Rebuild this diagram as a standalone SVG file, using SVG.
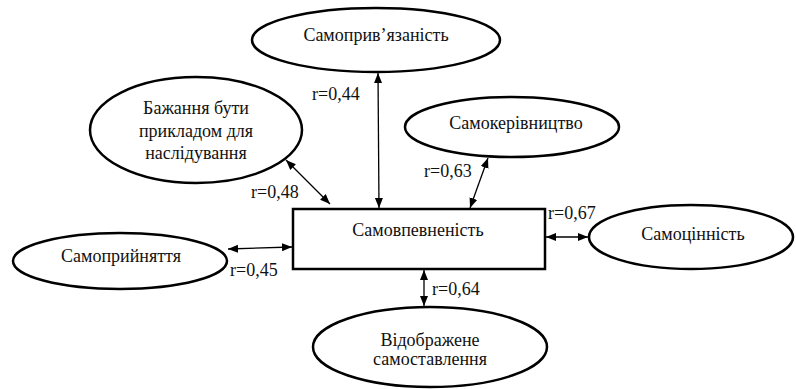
<svg xmlns="http://www.w3.org/2000/svg" width="796" height="389" viewBox="0 0 796 389">
<style>
.n{fill:#fff;stroke:#000;stroke-width:2.5}
.t{font-family:"Liberation Serif","Times New Roman",serif;font-size:18px;fill:#111;text-anchor:middle}
.l{font-family:"Liberation Serif","Times New Roman",serif;font-size:18px;fill:#111}
.c{stroke:#000;stroke-width:1.3;fill:none;marker-start:url(#a);marker-end:url(#a)}
</style>
<defs>
<marker id="a" viewBox="0 0 10 10" refX="10" refY="5" markerWidth="10" markerHeight="10" markerUnits="userSpaceOnUse" orient="auto-start-reverse">
<path d="M0,1 L10,5 L0,9 Z" fill="#000"/>
</marker>
</defs>
<rect width="796" height="389" fill="#fff"/>
<g id="connectors">
<line class="c" x1="378" y1="73" x2="379" y2="208"/>
<line class="c" x1="286" y1="160" x2="330" y2="204"/>
<line class="c" x1="488" y1="158" x2="470" y2="208"/>
<line class="c" x1="228" y1="249" x2="292" y2="247"/>
<line class="c" x1="546" y1="237" x2="588" y2="237"/>
<line class="c" x1="424" y1="270" x2="424" y2="306"/>
</g>
<g id="n-pryvyazanist">
<ellipse class="n" cx="376" cy="40" rx="124" ry="32"/>
<text class="t" x="376" y="41">Самоприв’язаність</text>
</g>
<g id="n-bazhannya">
<ellipse class="n" cx="196" cy="130" rx="106" ry="53"/>
<text class="t" x="196" y="114">Бажання бути</text>
<text class="t" x="196" y="137">прикладом для</text>
<text class="t" x="196" y="159">наслідування</text>
</g>
<g id="n-kerivnytstvo">
<ellipse class="n" cx="512" cy="127" rx="107" ry="30"/>
<text class="t" x="516" y="129">Самокерівництво</text>
</g>
<g id="n-vpevnenist">
<rect class="n" x="293" y="209" width="252" height="60"/>
<text class="t" x="418" y="236">Самовпевненість</text>
</g>
<g id="n-pryinyattya">
<ellipse class="n" cx="120" cy="261" rx="107" ry="28"/>
<text class="t" x="121" y="262">Самоприйняття</text>
</g>
<g id="n-tsinnist">
<ellipse class="n" cx="691" cy="237" rx="102" ry="32"/>
<text class="t" x="693" y="240">Самоцінність</text>
</g>
<g id="n-vidobrazhene">
<ellipse class="n" cx="430" cy="347" rx="117" ry="40"/>
<text class="t" x="430" y="346">Відображене</text>
<text class="t" x="430" y="365">самоставлення</text>
</g>
<g id="labels">
<text class="l" x="312" y="100">r=0,44</text>
<text class="l" x="251" y="198">r=0,48</text>
<text class="l" x="424" y="177">r=0,63</text>
<text class="l" x="548" y="219">r=0,67</text>
<text class="l" x="230" y="276">r=0,45</text>
<text class="l" x="432" y="295">r=0,64</text>
</g>
</svg>
